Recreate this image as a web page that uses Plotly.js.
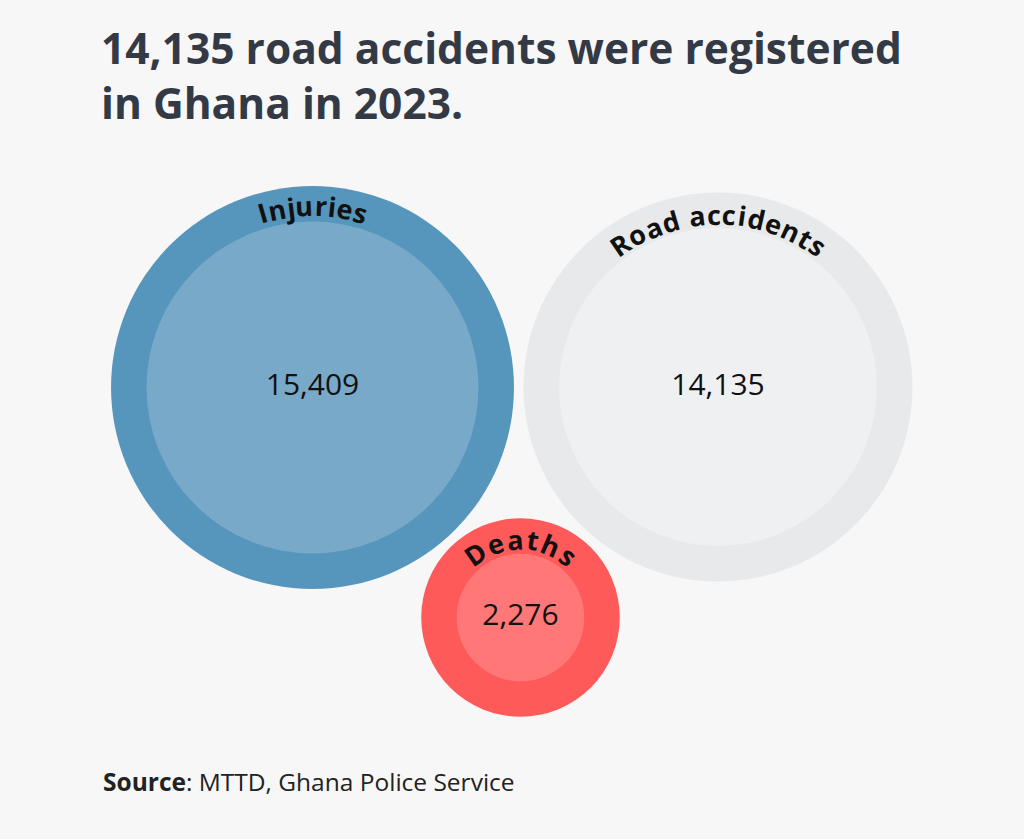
<!DOCTYPE html>
<html><head><meta charset="utf-8">
<script src="https://cdn.plot.ly/plotly-3.0.1.min.js"></script>
<style>html,body{margin:0;padding:0;background:#f7f7f7}</style>
</head><body><div id="chart" style="width:1024px;height:839px"></div>
<script>
// ---- data ----
const categories = ["Injuries", "Road accidents", "Deaths"];
const values = [15409, 14135, 2276];
const valueLabels = ["15,409", "14,135", "2,276"];
const titleLines = ["14,135 road accidents were registered", "in Ghana in 2023."];
const sourceBold = "Source";
const sourceRest = ": MTTD, Ghana Police Service";

// ---- layout / style (pixel space) ----
const centersX = [312.5, 718, 520.5];
const centersY = [387.5, 387, 617.5];
const outerColors = ["#5796bc", "#e8e9eb", "#ff5a5a"];
const innerColors = ["#79a9c8", "#eff0f2", "#ff7777"];
const RADIUS_PER_SQRT = 1.337;
const RING = 35.5;
const labelArc = [110, 226, 116];
const labelInset = [2, 4, 3];
const FONT = "'Open Sans', 'Noto Sans', sans-serif";
const TITLE_COLOR = "#343a45";

const innerR = values.map(v => RADIUS_PER_SQRT * Math.sqrt(v));
const outerR = innerR.map(r => r + RING);

const ctx = document.createElement("canvas").getContext("2d");
function measure(txt, size, weight) {
  ctx.font = (weight || "normal") + " " + size + "px 'Open Sans'";
  return ctx.measureText(txt).width;
}

const traces = [
  {type: "scatter", mode: "markers", x: centersX, y: centersY, hoverinfo: "skip",
   marker: {size: outerR.map(r => 2 * r), sizemode: "diameter", color: outerColors, opacity: 1, line: {width: 0}}},
  {type: "scatter", mode: "markers+text", x: centersX, y: centersY, hoverinfo: "skip",
   text: valueLabels, textposition: "middle center",
   textfont: {family: FONT, size: 30, color: "#111111"},
   marker: {size: innerR.map(r => 2 * r), sizemode: "diameter", color: innerColors, opacity: 1, line: {width: 0}}}
];

const annotations = [];
// curved labels
const LABEL_SIZE = 27;
categories.forEach((cat, k) => {
  const chars = cat.split("");
  const widths = chars.map(c => measure(c, LABEL_SIZE, "bold"));
  const total = widths.reduce((a, b) => a + b, 0);
  const extra = chars.length > 1 ? (labelArc[k] - total) / (chars.length - 1) : 0;
  const R = (innerR[k] + outerR[k]) / 2 - labelInset[k];
  let cum = 0;
  chars.forEach((c, i) => {
    const s = cum + widths[i] / 2 + i * extra - labelArc[k] / 2;
    cum += widths[i];
    if (c === " ") return;
    const th = s / R;
    annotations.push({
      x: centersX[k] + R * Math.sin(th), y: centersY[k] - R * Math.cos(th),
      xref: "x", yref: "y", text: c, showarrow: false,
      xanchor: "center", yanchor: "middle", textangle: th * 180 / Math.PI,
      font: {family: FONT, size: LABEL_SIZE, color: "#111111", weight: "bold"}
    });
  });
});

// title (one text block, two lines)
const titleSize = 40 * 801 / measure(titleLines[0], 40, "bold");
annotations.push({x: 100, y: 75, xref: "x", yref: "y",
  text: titleLines.map(t => "<b>" + t + "</b>").join("<br>"),
  showarrow: false, xanchor: "left", yanchor: "middle", align: "left", borderpad: 0,
  font: {family: FONT, size: titleSize, color: TITLE_COLOR}});
// source
annotations.push({x: 101, y: 781, xref: "x", yref: "y", text: "<b>" + sourceBold + "</b>" + sourceRest,
  showarrow: false, xanchor: "left", yanchor: "middle",
  font: {family: FONT, size: 24.5, color: "#222222"}});

const layout = {
  width: 1024, height: 839,
  margin: {l: 0, r: 0, t: 0, b: 0, pad: 0},
  paper_bgcolor: "#f7f7f7", plot_bgcolor: "#f7f7f7",
  showlegend: false,
  xaxis: {range: [0, 1024], visible: false, fixedrange: true},
  yaxis: {range: [839, 0], visible: false, fixedrange: true},
  annotations: annotations
};

Plotly.newPlot("chart", traces, layout, {displayModeBar: false, staticPlot: true});
</script>
</body></html>
